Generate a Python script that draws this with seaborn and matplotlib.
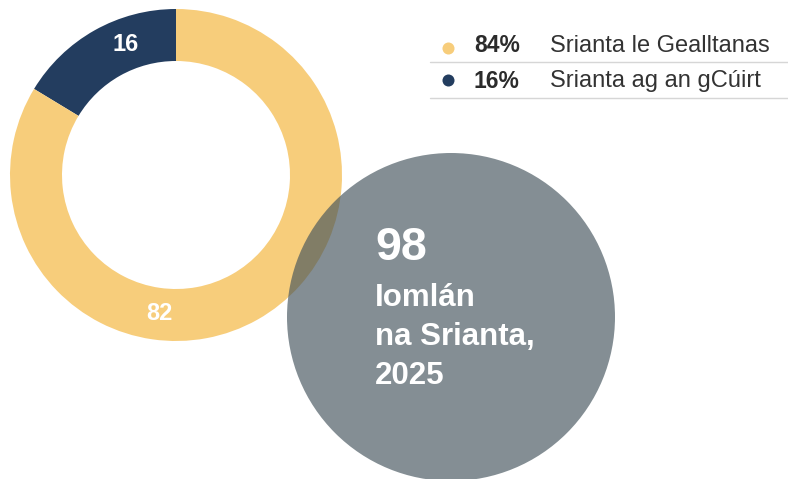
"""
Srianta 2025 - fáinne (donut) le ciorcal iomlán
"""

import matplotlib
matplotlib.use("Agg")
import matplotlib.pyplot as plt
from matplotlib.patches import Circle
import numpy as np
import seaborn as sns

# ===== Sonraí =====
CATEGORIES = ["Srianta ag an gCúirt", "Srianta le Gealltanas"]
VALUES = [16, 82]
PERCENT_LABELS = ["16%", "84%"]
TOTAL = 98
TOTAL_LINES = ["Iomlán", "na Srianta,", "2025"]

# dathanna
NAVY = "#233d5f"
YELLOW = "#f7cd7b"
GREY = "#42525b"

sns.set_theme(style="white")
plt.rcParams["font.family"] = ["Liberation Sans", "DejaVu Sans"]

W, H = 788, 479
fig = plt.figure(figsize=(W / 100, H / 100), dpi=100)
ax = fig.add_axes([0, 0, 1, 1])


def py(y):
    # pixel ó bharr -> comhordanáid y
    return H - y


# --- fáinne ---
cx, cy, r_out, ring = 176, py(175), 166, 52
wedges, _ = ax.pie(
    VALUES, colors=[NAVY, YELLOW], startangle=90, counterclock=True,
    radius=r_out, center=(cx, cy),
    wedgeprops=dict(width=ring, linewidth=0),
)
for w in wedges:
    w.set_zorder(1)

# lipéid na slisní
label_angles = [111, 263]
r_lab = r_out - ring / 2
for val, ang in zip(VALUES, label_angles):
    a = np.deg2rad(ang)
    ax.text(cx + r_lab * np.cos(a), cy + r_lab * np.sin(a), str(val),
            ha="center", va="center", color="white", fontsize=17,
            fontweight="bold", zorder=4)

# --- ciorcal an iomláin ---
ax.add_patch(Circle((451, py(317)), 164, facecolor=GREY, alpha=0.65,
                    linewidth=0, zorder=2))
ax.text(375, py(260), str(TOTAL), ha="left", va="baseline", color="white",
        fontsize=33.5, fontweight="bold", zorder=4)
for i, line in enumerate(TOTAL_LINES):
    ax.text(375, py(306.5 + 38.5 * i), line, ha="left", va="baseline",
            color="white", fontsize=22.5, fontweight="bold", zorder=4)

# --- eochair ---
row_y = [45.5, 81]
dot_y = [47.5, 80]
legend_order = [1, 0]
for k, idx in enumerate(legend_order):
    y = py(row_y[k])
    color = [NAVY, YELLOW][idx]
    ax.scatter([448], [py(dot_y[k])], s=75, color=color, linewidths=0,
               zorder=4)
    ax.text(474, y, PERCENT_LABELS[idx], ha="left", va="center",
            fontsize=16.5, fontweight="bold", color="#2b2b2b", zorder=4)
    ax.text(550, y, CATEGORIES[idx], ha="left", va="center",
            fontsize=17, color="#333333", zorder=4)
    ax.plot([430, W], [py(row_y[k] + 16.5)] * 2, color="#d6d6d6",
            linewidth=1.0, zorder=3)

ax.set_xlim(0, W)
ax.set_ylim(0, H)
ax.set_aspect("equal")
ax.axis("off")

fig.savefig("out.png", dpi=100, facecolor="white")
